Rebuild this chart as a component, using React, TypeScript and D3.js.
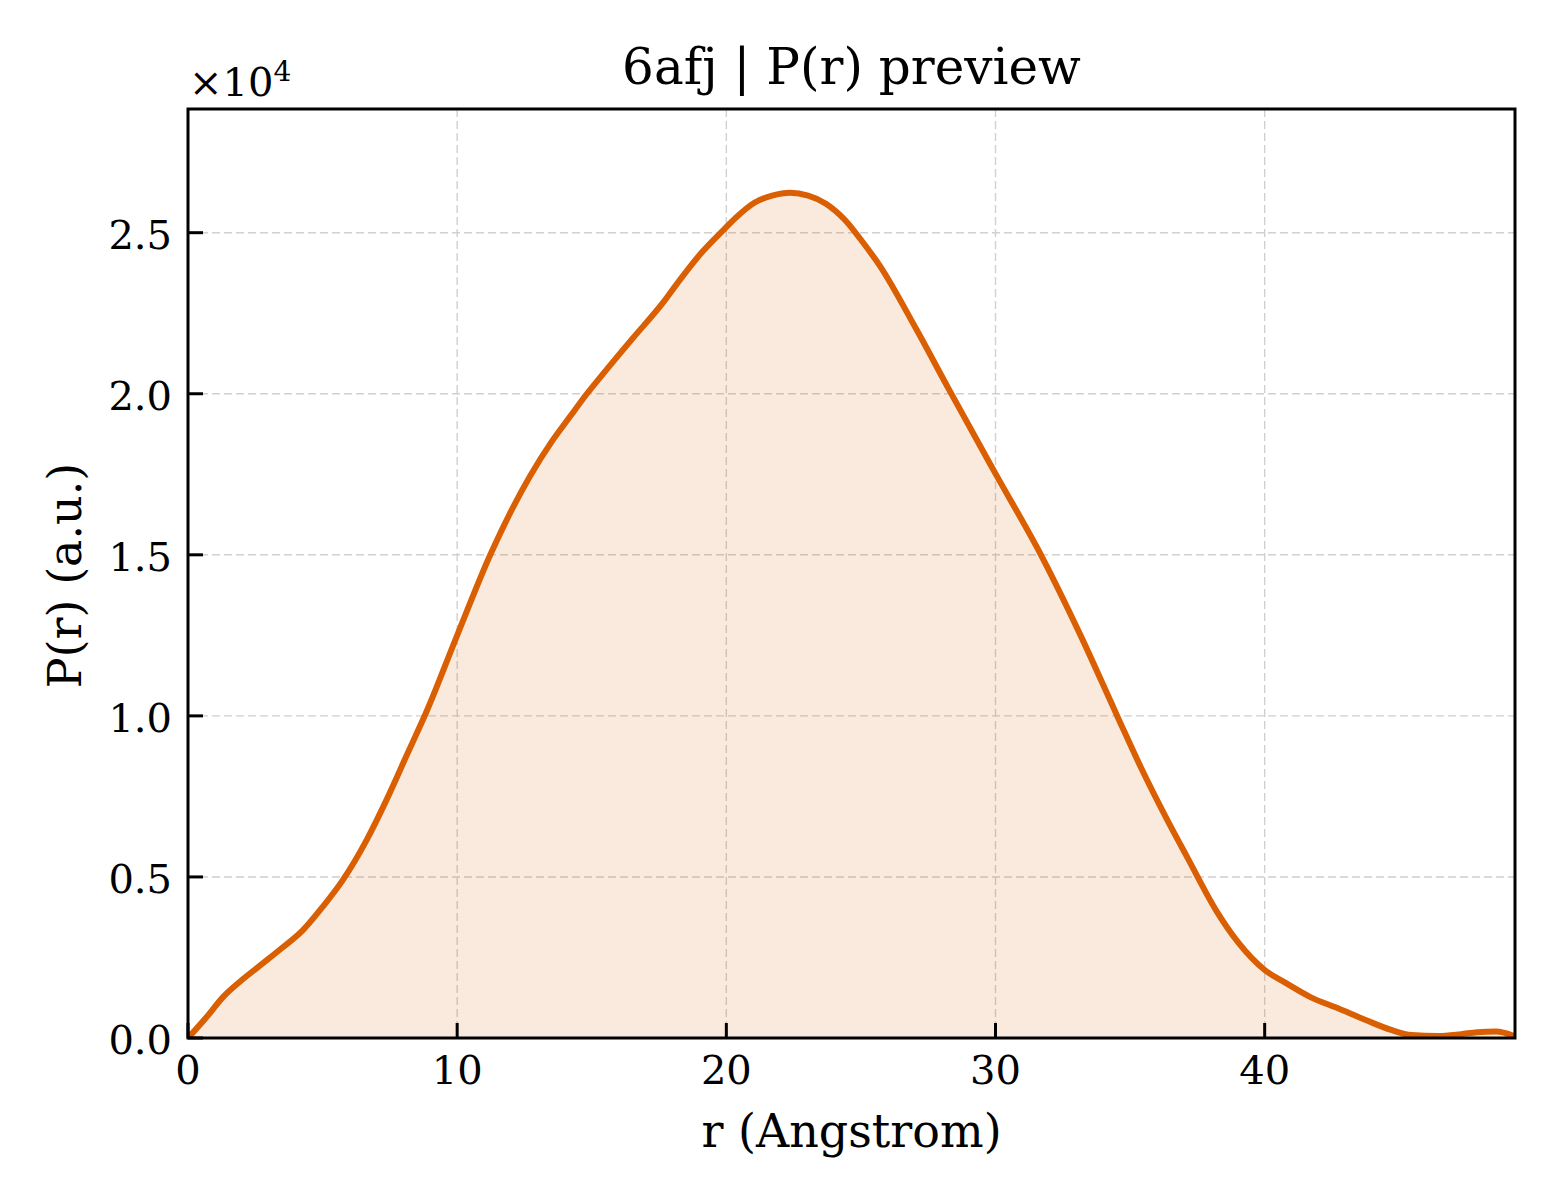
import React from "react";
import * as d3 from "d3";

const rValues: number[] = [0, 0.66, 1.3, 2.0, 2.8, 3.5, 4.27, 5.0, 5.75, 6.64, 7.38, 8.1, 8.87, 10.0, 11.23, 12.71, 13.5, 14.2, 14.82, 15.55, 16.5, 17.67, 18.26, 19.1, 19.85, 20.37, 21.04, 21.7, 22.37, 23.04, 23.7, 24.4, 25.0, 25.68, 27.06, 28.26, 30.0, 31.75, 33.16, 34.52, 35.39, 36.38, 37.13, 38.24, 39.03, 40.0, 40.78, 41.7, 42.7, 43.75, 44.7, 45.45, 46.45, 47.3, 47.9, 48.6, 49.3];
const pValues: number[] = [0, 620, 1270, 1800, 2330, 2800, 3350, 4070, 4900, 6150, 7400, 8730, 10150, 12500, 15000, 17450, 18500, 19300, 20000, 20750, 21700, 22850, 23520, 24400, 25050, 25480, 25930, 26150, 26240, 26150, 25900, 25400, 24780, 24000, 22000, 20150, 17520, 14900, 12500, 10000, 8420, 6770, 5600, 3900, 2950, 2110, 1710, 1270, 930, 560, 250, 90, 60, 120, 180, 200, 50];
const xTicks: number[] = [0, 10, 20, 30, 40];
const yTicks: number[] = [0, 5000, 10000, 15000, 20000, 25000];

const W = 1560, H = 1200;
const M = { left: 188, right: 1515, top: 109, bottom: 1038 };
const FONT = "'DejaVu Serif', serif";
const LINE = "#d95f02";

export default function App() {
  const x = d3.scaleLinear().domain([0, 49.3]).range([M.left, M.right]);
  const y = d3.scaleLinear().domain([0, 28840]).range([M.bottom, M.top]);
  const pts = rValues.map((r, i) => [r, pValues[i]] as [number, number]);
  const line = d3.line<[number, number]>().x(d => x(d[0])).y(d => y(d[1])).curve(d3.curveMonotoneX);
  const area = d3.area<[number, number]>().x(d => x(d[0])).y0(y(0)).y1(d => y(d[1])).curve(d3.curveMonotoneX);
  return (
    <div style={{ position: "absolute", left: 0, top: 0 }}>
      <svg width={W} height={H} style={{ display: "block", background: "#fff" }} fontFamily={FONT}>
        <defs>
          <clipPath id="plot"><rect x={M.left} y={M.top} width={M.right - M.left} height={M.bottom - M.top} /></clipPath>
        </defs>
        <g>
          {xTicks.filter(t => t > 0).map(t => (
            <line key={"gx" + t} x1={x(t)} x2={x(t)} y1={M.top} y2={M.bottom} stroke="#d0d0d0" strokeWidth={1.4} strokeDasharray="8,4" />
          ))}
          {yTicks.filter(t => t > 0).map(t => (
            <line key={"gy" + t} x1={M.left} x2={M.right} y1={y(t)} y2={y(t)} stroke="#d0d0d0" strokeWidth={1.4} strokeDasharray="8,4" />
          ))}
        </g>
        <g clipPath="url(#plot)">
          <path d={area(pts) || ""} fill={LINE} fillOpacity={0.13} />
          <path d={line(pts) || ""} fill="none" stroke={LINE} strokeWidth={6} strokeLinejoin="round" />
        </g>
        <rect x={M.left} y={M.top} width={M.right - M.left} height={M.bottom - M.top} fill="none" stroke="#000" strokeWidth={3} />
        {xTicks.map(t => (
          <g key={"xt" + t}>
            <line x1={x(t)} x2={x(t)} y1={M.bottom} y2={M.bottom - 15} stroke="#000" strokeWidth={3} />
            <text x={x(t)} y={1084} textAnchor="middle" fontSize={40}>{t}</text>
          </g>
        ))}
        {yTicks.map(t => (
          <g key={"yt" + t}>
            <line x1={M.left} x2={M.left + 15} y1={y(t)} y2={y(t)} stroke="#000" strokeWidth={3} />
            <text x={172} y={y(t) + 16} textAnchor="end" fontSize={40}>{(t / 10000).toFixed(1)}</text>
          </g>
        ))}
        <text x={189} y={96} fontSize={40}>×10<tspan dy={-15} fontSize={28}>4</tspan></text>
        <text x={(M.left + M.right) / 2} y={84} textAnchor="middle" fontSize={50}>6afj | P(r) preview</text>
        <text x={(M.left + M.right) / 2} y={1147} textAnchor="middle" fontSize={46}>r (Angstrom)</text>
        <text transform={`translate(81,${(M.top + M.bottom) / 2 + 2}) rotate(-90)`} textAnchor="middle" fontSize={46}>P(r) (a.u.)</text>
      </svg>
    </div>
  );
}
